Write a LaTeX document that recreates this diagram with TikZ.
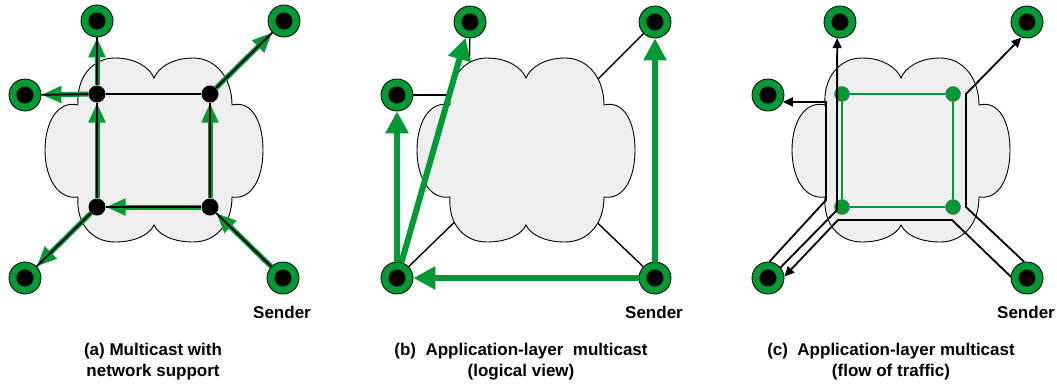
\documentclass[tikz,border=0pt]{standalone}
\usepackage{fontspec}
\setmainfont{Liberation Sans}
\usepackage{tikz}
\usetikzlibrary{arrows.meta}
\usetikzlibrary{positioning}
\definecolor{hostgreen}{RGB}{0,153,51}
\definecolor{cloudgray}{RGB}{239,239,239}
\tikzset{host/.style = {circle, fill = hostgreen, draw = black, line width = 0.8, inner sep = 0, minimum size = 32,
    path picture = {\fill [black] (path picture bounding box.center) circle (8.5pt);}}}
\tikzset{rtr/.style = {circle, fill = black, inner sep = 0, minimum size = 17}}
\tikzset{grtr/.style = {circle, fill = hostgreen, draw = black!60, line width = 0.5, inner sep = 0, minimum size = 15}}
\tikzset{link/.style = {black, line width = 1.8}}
\tikzset{thinlink/.style = {black, line width = 1.4}}
\tikzset{sqlink/.style = {hostgreen, line width = 1.8}}
\tikzset{garrow/.style = {hostgreen, line width = 5, -{Triangle[length = 20pt, width = 16pt]}}}
\tikzset{barrow/.style = {hostgreen, line width = 6, -{Triangle[length = 22pt, width = 22pt]}}}
\tikzset{flow/.style = {black, line width = 1.8, line join = miter, -{Triangle[length = 10pt, width = 9pt]}}}
\tikzset{flowline/.style = {black, line width = 1.8, line join = miter}}
\tikzset{lbl/.style = {font = \fontsize{17}{21}\selectfont\bfseries, inner sep = 0}}
\tikzset{cloudstyle/.style = {draw = black, fill = cloudgray, line width = 0.9}}
\newcommand{\netcloud}[1]{%
  \draw [cloudstyle, shift = {(#1,150)}] (-76,-45)
    .. controls (-78,-72) and (-62,-92) .. (-39,-92)
    .. controls (-18,-92) and (-4,-82) .. (0,-72)
    .. controls (4,-82) and (18,-92) .. (39,-92)
    .. controls (62,-92) and (78,-72) .. (78,-45)
    .. controls (98,-50) and (109,-28) .. (109,0)
    .. controls (109,28) and (98,50) .. (78,47)
    .. controls (78,74) and (62,92) .. (39,92)
    .. controls (18,92) and (4,84) .. (0,75)
    .. controls (-4,84) and (-18,92) .. (-39,92)
    .. controls (-62,92) and (-78,74) .. (-76,47)
    .. controls (-96,50) and (-109,28) .. (-109,0)
    .. controls (-109,-28) and (-96,-50) .. (-76,-45) -- cycle;}

\begin{document}
\begin{tikzpicture}[x = 1pt, y = -1pt]

    \useasboundingbox (0,0) rectangle (1057,384);

    \netcloud{154}
    \netcloud{901}

    % (b) links lie under the cloud
    \node [host] (bLeft) at (397,95) {};
    \node [host] (bTop) at (470,22) {};
    \node [host] (bTR) at (655,22) {};
    \node [host] (bBL) at (397,278) {};
    \node [host] (bSnd) at (655,278) {};
    \coordinate (bR1) at (469,95);
    \coordinate (bR2) at (582,95);
    \coordinate (bR3) at (469,208);
    \coordinate (bR4) at (582,208);
    \draw [thinlink] (bLeft) -- (bR1);
    \draw [thinlink] (bTop) -- (bR1);
    \draw [thinlink] (bTR) -- (bR2);
    \draw [thinlink] (bBL) -- (bR3);
    \draw [thinlink] (bSnd) -- (bR4);
    \netcloud{526}

    % (a)
    \node [host] (aTop) at (97,21) {};
    \node [host] (aTR) at (284,21) {};
    \node [host] (aLeft) at (25,95) {};
    \node [host] (aBL) at (25,278) {};
    \node [host] (aSnd) at (283,278) {};
    \node [rtr] (aR1) at (97,94) {};
    \node [rtr] (aR2) at (210,94) {};
    \node [rtr] (aR3) at (97,207) {};
    \node [rtr] (aR4) at (210,207) {};

    \draw [garrow] (aSnd) -- (aR4);
    \draw [garrow] (aR4) -- (aR2);
    \draw [garrow] (aR4) -- (aR3);
    \draw [garrow] (aR3) -- (aR1);
    \draw [garrow] (aR1) -- (aTop);
    \draw [garrow] (aR1) -- (aLeft);
    \draw [garrow] (aR2) -- (aTR);
    \draw [garrow] (aR3) -- (aBL);

    \draw [thinlink] (aR1) -- (aR2);
    \draw [link] (aR2) -- (aR4);
    \draw [link] (aR4) -- (aR3);
    \draw [link] (aR3) -- (aR1);
    \draw [link] (aR1) -- (aTop);
    \draw [link] (aR1) -- (aLeft);
    \draw [link] (aR2) -- (aTR);
    \draw [link] (aR3) -- (aBL);
    \draw [link] (aR4) -- (aSnd);

    % (b)
    \draw [barrow] (bSnd) -- (bBL);
    \draw [barrow] (bSnd) -- (bTR);
    \draw [barrow] (bBL) -- (bLeft);
    \draw [barrow] (bBL) -- (bTop);

    % (c)
    \node [host] (cTop) at (840,22) {};
    \node [host] (cTR) at (1027,22) {};
    \node [host] (cLeft) at (768,95) {};
    \node [host] (cBL) at (768,278) {};
    \node [host] (cSnd) at (1027,278) {};
    \node [grtr] (cR1) at (842,94) {};
    \node [grtr] (cR2) at (953,94) {};
    \node [grtr] (cR3) at (842,207) {};
    \node [grtr] (cR4) at (953,207) {};

    \draw [sqlink] (cR1) -- (cR2);
    \draw [sqlink] (cR2) -- (cR4);
    \draw [sqlink] (cR4) -- (cR3);
    \draw [sqlink] (cR3) -- (cR1);

    \coordinate (c1a) at (966,207);
    \coordinate (c1b) at (966,94);
    \coordinate (c2a) at (952,220);
    \coordinate (c2b) at (838,220);
    \coordinate (c3a) at (826,200);
    \coordinate (c3b) at (826,102);
    \coordinate (c4a) at (837,210);

    \draw [flow] (cSnd.100) -- (c1a) -- (c1b) -- (cTR.-110);
    \draw [flow] (cSnd.175) -- (c2a) -- (c2b) -- (cBL.5);
    \draw [flow] (cBL.85) -- (c3a) -- (c3b) -- (cLeft.-25);
    \draw [flow] (cBL.40) -- (c4a) -- (cTop.-100);

    % labels
    \node [lbl] (aSender) at (282,312) {Sender};
    \node [lbl] (bSender) at (654,312) {Sender};
    \node [lbl] (cSender) at (1026,312) {Sender};
    \node [lbl, align = center] (aCap) at (153,362) {(a) Multicast with\\network support};
    \node [lbl, align = center] (bCap) at (521,362) {(b)\ \ Application-layer\ \ multicast\\(logical view)};
    \node [lbl, align = center] (cCap) at (891,362) {(c)\ \ Application-layer multicast\\(flow of traffic)};
  \end{tikzpicture}
\end{document}
